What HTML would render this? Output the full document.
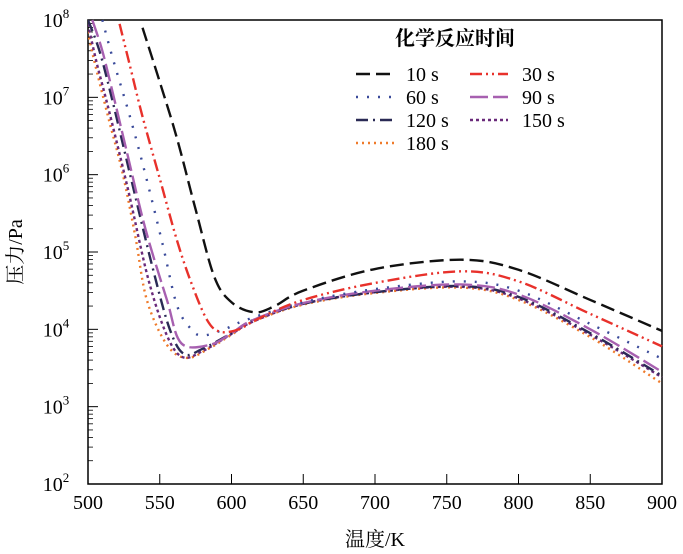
<!DOCTYPE html>
<html><head><meta charset="utf-8"><style>
body{margin:0;background:#fff;}
svg{display:block;font-family:"Liberation Serif","Noto Serif CJK SC",serif;}
</style></head><body>
<svg id="chart" width="683" height="554" viewBox="0 0 683 554" xmlns="http://www.w3.org/2000/svg">
<g id="axes"></g><g id="series"></g><g id="legend"></g>
</svg>
<script>
const xTicks=[500,550,600,650,700,750,800,850,900];
const yExps=[2,3,4,5,6,7,8];
const seriesNames=["10 s","30 s","60 s","90 s","120 s","150 s","180 s"];
const seriesColors=["#111111","#e8312b","#3a4a9a","#a760b0","#2a2a55","#6a2a7a","#ef7a2a"];
const seriesDash=["14,6","12,4,2,4,2,4","2,9","18,5","12,5,2,5","3,3","2,4"];
const T10=[538,550,562,575,588,600,616,630,650,700,760,800,850,900];
const L10=[7.9,7.2,6.47,5.55,4.68,4.35,4.22,4.3,4.5,4.78,4.9,4.77,4.38,3.98];
const T30=[522,530,538,550,562,572,583,592,605,620,650,700,760,800,850,900];
const L30=[7.95,7.35,6.75,5.95,5.15,4.6,4.12,3.97,4.0,4.15,4.38,4.6,4.75,4.62,4.2,3.78];
const T60=[510,517,530,541,552,562,572,580,595,610,650,700,760,800,850,900];
const L60=[8.0,7.52,6.7,5.93,5.1,4.31,4.0,3.92,4.0,4.12,4.35,4.52,4.62,4.5,4.07,3.62];
const T90=[503,510,518,527,540,555,565,585,600,615,650,700,760,800,850,900];
const L90=[8.0,7.6,7.0,6.3,5.3,4.38,3.82,3.8,3.95,4.12,4.34,4.5,4.58,4.45,4.0,3.45];
const T120=[500,508,517,530,545,557,567,580,600,615,650,700,760,800,850,900];
const L120=[8.0,7.6,6.96,5.95,4.8,4.0,3.68,3.75,3.95,4.12,4.33,4.48,4.56,4.42,3.95,3.4];
const T150=[500,506,515,528,542,555,566,580,600,615,650,700,760,800,850,900];
const L150=[7.95,7.45,6.8,5.8,4.65,3.92,3.64,3.72,3.94,4.1,4.33,4.48,4.55,4.4,3.93,3.38];
const T180=[498,504,514,524,533,541,555,569,585,600,615,650,700,760,800,850,900];
const L180=[8.0,7.5,6.75,6.03,5.2,4.38,3.8,3.63,3.76,3.93,4.1,4.32,4.47,4.54,4.38,3.9,3.3];
const seriesT=[T10,T30,T60,T90,T120,T150,T180];
const seriesL=[L10,L30,L60,L90,L120,L150,L180];

const X0=88,X1=662,Y0=20,Y1=484;
const xs=t=>X0+(t-500)/400*(X1-X0);
const ys=l=>Y1-(l-2)/6*(Y1-Y0);
const NS="http://www.w3.org/2000/svg";
function mk(tag,attrs,parent){const e=document.createElementNS(NS,tag);for(const k in attrs)e.setAttribute(k,attrs[k]);parent.appendChild(e);return e;}
const axes=document.getElementById('axes');
const frame=mk('rect',{x:X0,y:Y0,width:X1-X0,height:Y1-Y0,fill:'none',stroke:'#000','stroke-width':1.5},axes);


xTicks.forEach(t=>{
  const x=xs(t);
  const tk=mk('line',{x1:x,x2:x,y1:Y1,y2:Y1-10,stroke:'#000','stroke-width':1},axes);
  
  
  const tx=mk('text',{x:x,y:Y1+25,'text-anchor':'middle','font-size':20},axes);
  tx.textContent=t;
  
  
});
yExps.forEach(e=>{
  const y=ys(e);
  const tk=mk('line',{x1:X0,x2:X0+10,y1:y,y2:y,stroke:'#000','stroke-width':1},axes);
  
  
  if(e<8){for(let m=2;m<10;m++){const yy=y-Math.log10(m)*(Y1-Y0)/6;
    const mt=mk('line',{x1:X0,x2:X0+5,y1:yy,y2:yy,stroke:'#000','stroke-width':0.8},axes);
    
    }}
  const tx=mk('text',{x:X0-32,y:y+7,'text-anchor':'middle','font-size':20},axes);
  
  
  tx.innerHTML='10<tspan dy="-9" font-size="13">'+e+'</tspan>';
});
const xt=mk('text',{x:375,y:546,'text-anchor':'middle','font-size':20},axes);
xt.textContent='温度/K';


const yt=mk('text',{x:0,y:0,'text-anchor':'middle','font-size':20,transform:'translate(22,252) rotate(-90)'},axes);
yt.textContent='压力/Pa';



function smooth(pts){let d='M'+pts[0][0]+','+pts[0][1];
  for(let i=0;i<pts.length-1;i++){const p0=pts[Math.max(0,i-1)],p1=pts[i],p2=pts[i+1],p3=pts[Math.min(pts.length-1,i+2)];
    const c1=[p1[0]+(p2[0]-p0[0])/6,p1[1]+(p2[1]-p0[1])/6],c2=[p2[0]-(p3[0]-p1[0])/6,p2[1]-(p3[1]-p1[1])/6];
    d+=' C'+c1+' '+c2+' '+p2;}return d;}
const sg=document.getElementById('series');
const clip=mk('clipPath',{id:'clp'},sg);mk('rect',{x:X0,y:Y0-8,width:X1-X0+4,height:Y1-Y0+8},clip);
for(let i=seriesNames.length-1;i>=0;i--){
  const pts=seriesT[i].map((t,j)=>[xs(t),ys(seriesL[i][j])]);
  const p=mk('path',{d:smooth(pts),fill:'none',stroke:seriesColors[i],'stroke-width':2.4,'stroke-dasharray':seriesDash[i],'clip-path':'url(#clp)'},sg);
  
  
}
const lg=document.getElementById('legend');
const lt=mk('text',{x:455,y:45,'text-anchor':'middle','font-size':20,'font-weight':'bold'},lg);
lt.textContent='化学反应时间';


const legPos=[[0,0],[1,0],[0,1],[1,1],[0,2],[1,2],[0,3]];
legPos.forEach((p,i)=>{
  const lx=p[0]?470:356,ly=74+p[1]*23;
  const ln=mk('line',{x1:lx,x2:lx+38,y1:ly,y2:ly,stroke:seriesColors[i],'stroke-width':2.4,'stroke-dasharray':seriesDash[i]},lg);
  
  
  const tx=mk('text',{x:lx+(p[0]?52:50),y:ly+7,'font-size':20},lg);
  tx.textContent=seriesNames[i];
  
  
});
</script>
</body></html>
